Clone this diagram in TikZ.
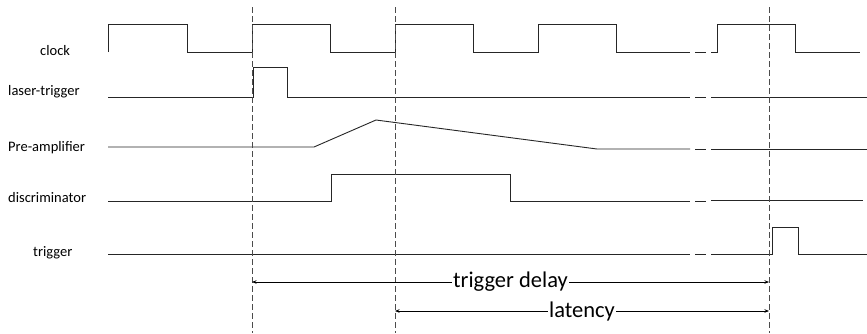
\documentclass[tikz,border=0pt]{standalone}
\usepackage{fontspec}
\setmainfont{Carlito}
\usetikzlibrary{arrows.meta}
\begin{document}
\begin{tikzpicture}[x=1pt,y=-1pt,
  wave/.style={line width=0.9pt, black!85, line join=miter},
  marker/.style={line width=1pt, black!70, dash pattern=on 6pt off 3pt},
  span/.style={line width=0.7pt, black,
    {Stealth[length=4.5pt,width=3.5pt]}-{Stealth[length=4.5pt,width=3.5pt]}},
  siglabel/.style={anchor=base west, inner sep=0pt,
    font=\fontsize{14.5}{16}\selectfont},
  spanlabel/.style={fill=white, inner sep=1pt,
    font=\fontsize{22.5}{24}\selectfont}]
\useasboundingbox[fill=white] (0,0) rectangle (867,333);

% signal names
\node[siglabel] (lclk)  at (40,55)  {clock};
\node[siglabel] (llas)  at (8,95)   {laser-trigger};
\node[siglabel] (lpre)  at (8,151)  {Pre-amplifier};
\node[siglabel] (ldis)  at (8,202)  {discriminator};
\node[siglabel] (ltrg)  at (33,256) {trigger};

% clock
\draw[wave] (108,52) -- (108,24) -- (187,24) -- (187,52) -- (252,52) -- (252,24)
  -- (330,24) -- (330,52) -- (395,52) -- (395,24) -- (473,24) -- (473,52)
  -- (538,52) -- (538,24) -- (616,24) -- (616,52) -- (690,52);
\draw[wave] (695,52) -- (706,52);
\draw[wave] (711,52) -- (717,52) -- (717,24) -- (795,24) -- (795,52) -- (860,52);

% laser-trigger
\draw[wave] (108,97) -- (253,97) -- (253,67) -- (287,67) -- (287,97) -- (690,97);
\draw[wave] (695,97) -- (706,97);
\draw[wave] (711,97) -- (867,97);

% pre-amplifier
\draw[wave] (108,147) -- (314,147) -- (376,120) -- (597,149) -- (690,149);
\draw[wave] (695,149) -- (706,149);
\draw[wave] (711,149) -- (867,149);

% discriminator
\draw[wave] (108,201) -- (331,201) -- (331,174) -- (510,174) -- (510,201) -- (690,201);
\draw[wave] (695,201) -- (706,201);
\draw[wave] (711,200) -- (863,200);

% trigger
\draw[wave] (108,254) -- (690,254);
\draw[wave] (695,254) -- (706,254);
\draw[wave] (711,254) -- (772,254) -- (772,227) -- (798,227) -- (798,254) -- (867,254);

% time markers
\coordinate (m1t) at (252,7);  \coordinate (m1b) at (252,333);
\coordinate (m2t) at (395,7);  \coordinate (m2b) at (395,333);
\coordinate (m3t) at (769,7);  \coordinate (m3b) at (769,333);
\draw[marker] (m1t) -- (m1b);
\draw[marker] (m2t) -- (m2b);
\draw[marker] (m3t) -- (m3b);

% intervals
\coordinate (dS) at (252,282); \coordinate (dE) at (769,282);
\coordinate (lS) at (395,311); \coordinate (lE) at (769,311);
\draw[span] (dS) -- node[spanlabel] (tdel) {trigger delay} (dE);
\draw[span] (lS) -- node[spanlabel] (tlat) {latency} (lE);
\end{tikzpicture}
\end{document}
